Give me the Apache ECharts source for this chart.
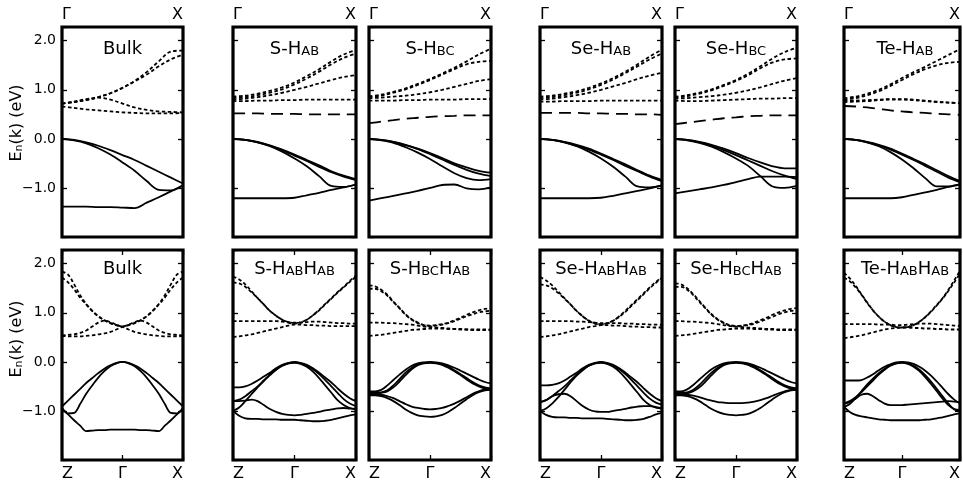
<!DOCTYPE html>
<html><head><meta charset="utf-8">
<script src="https://cdn.jsdelivr.net/npm/echarts@6/dist/echarts.min.js"></script>
<style>html,body{margin:0;padding:0;background:#fff}#c{width:963px;height:487px}</style>
</head><body><div id="c"></div><script>
// ---------- k-point grids ----------
const kTop = [0,0.1,0.2,0.3,0.4,0.5,0.6,0.7,0.8,0.9,1];
const kBot = [-1,-0.9,-0.8,-0.7,-0.6,-0.5,-0.4,-0.3,-0.2,-0.1,0,0.1,0.2,0.3,0.4,0.5,0.6,0.7,0.8,0.9,1];

// ---------- tick labels ----------
const yTickValues = [-1,0,1,2];
const yTickLabels = ['\u22121.0','0.0','1.0','2.0'];
const topXLabels = ['\u0393','X'];
const botXLabels = ['Z','\u0393','X'];

// ---------- titles ----------
const titlesTop = ['{m|Bulk}','{m|S-H}{s|AB}','{m|S-H}{s|BC}','{m|Se-H}{s|AB}','{m|Se-H}{s|BC}','{m|Te-H}{s|AB}'];
const titlesBot = ['{m|Bulk}','{m|S-H}{s|AB}{m|H}{s|AB}','{m|S-H}{s|BC}{m|H}{s|AB}','{m|Se-H}{s|AB}{m|H}{s|AB}','{m|Se-H}{s|BC}{m|H}{s|AB}','{m|Te-H}{s|AB}{m|H}{s|AB}'];

// ---------- top row: Gamma -> X ----------
const bulkTopSolid = [
 [0,-0.02,-0.07,-0.14,-0.23,-0.33,-0.43,-0.55,-0.67,-0.79,-0.91],
 [0,-0.03,-0.09,-0.19,-0.32,-0.48,-0.65,-0.86,-1.04,-1.05,-0.94],
 [-1.38,-1.38,-1.38,-1.39,-1.39,-1.40,-1.41,-1.30,-1.19,-1.07,-0.95]];
const bulkTopDotted = [
 [0.72,0.75,0.79,0.85,0.93,1.04,1.18,1.36,1.58,1.78,1.80],
 [0.72,0.75,0.79,0.85,0.93,1.04,1.17,1.31,1.48,1.62,1.72],
 [0.72,0.76,0.81,0.84,0.80,0.72,0.64,0.59,0.56,0.55,0.54],
 [0.66,0.63,0.60,0.58,0.56,0.54,0.53,0.52,0.52,0.52,0.53]];

const sHabTopSolid = [
 [0,-0.02,-0.06,-0.13,-0.22,-0.32,-0.43,-0.54,-0.66,-0.75,-0.82],
 [0,-0.02,-0.07,-0.14,-0.23,-0.34,-0.45,-0.57,-0.68,-0.77,-0.84],
 [0,-0.02,-0.07,-0.15,-0.26,-0.40,-0.56,-0.76,-0.96,-0.98,-0.93],
 [-1.21,-1.21,-1.21,-1.21,-1.21,-1.20,-1.15,-1.10,-1.04,-0.99,-0.93]];
const sHabTopDotted = [
 [0.86,0.88,0.92,0.98,1.05,1.15,1.28,1.42,1.58,1.72,1.81],
 [0.83,0.85,0.89,0.94,1.01,1.11,1.23,1.37,1.52,1.65,1.74],
 [0.80,0.82,0.85,0.89,0.94,1.00,1.06,1.13,1.20,1.26,1.30],
 [0.77,0.77,0.78,0.78,0.79,0.79,0.80,0.80,0.80,0.80,0.80]];
const sHabTopDashed = [[0.52,0.52,0.52,0.51,0.51,0.51,0.50,0.50,0.50,0.50,0.50]];

const sHbcTopSolid = [
 [0,-0.02,-0.06,-0.12,-0.20,-0.29,-0.39,-0.50,-0.58,-0.65,-0.69],
 [0,-0.02,-0.06,-0.13,-0.21,-0.31,-0.42,-0.53,-0.63,-0.71,-0.76],
 [0,-0.03,-0.08,-0.17,-0.28,-0.41,-0.56,-0.70,-0.80,-0.84,-0.82],
 [-1.26,-1.21,-1.16,-1.11,-1.06,-1.00,-0.94,-0.93,-1.01,-1.03,-0.99]];
const sHbcTopDotted = [
 [0.87,0.90,0.96,1.03,1.12,1.22,1.33,1.45,1.58,1.72,1.84],
 [0.85,0.88,0.94,1.01,1.10,1.20,1.31,1.42,1.52,1.57,1.59],
 [0.83,0.84,0.86,0.88,0.91,0.95,1.00,1.06,1.12,1.18,1.22],
 [0.78,0.78,0.78,0.79,0.79,0.80,0.80,0.80,0.81,0.81,0.81]];
const sHbcTopDashed = [[0.32,0.35,0.38,0.41,0.43,0.45,0.46,0.47,0.48,0.48,0.48]];

const seHabTopSolid = [
 [0,-0.02,-0.06,-0.12,-0.20,-0.30,-0.41,-0.52,-0.64,-0.75,-0.84],
 [0,-0.02,-0.07,-0.14,-0.22,-0.32,-0.43,-0.55,-0.66,-0.77,-0.86],
 [0,-0.02,-0.07,-0.15,-0.26,-0.40,-0.57,-0.77,-0.97,-0.99,-0.95],
 [-1.21,-1.21,-1.21,-1.21,-1.21,-1.20,-1.16,-1.11,-1.06,-1.01,-0.95]];
const seHabTopDotted = [
 [0.86,0.88,0.92,0.97,1.04,1.13,1.24,1.37,1.52,1.68,1.82],
 [0.83,0.85,0.89,0.94,1.01,1.10,1.21,1.34,1.48,1.62,1.74],
 [0.80,0.82,0.85,0.89,0.94,1.00,1.07,1.14,1.22,1.29,1.35],
 [0.76,0.76,0.77,0.77,0.77,0.78,0.78,0.78,0.78,0.78,0.78]];
const seHabTopDashed = [[0.53,0.53,0.53,0.53,0.52,0.52,0.51,0.51,0.50,0.50,0.49]];

const seHbcTopSolid = [
 [0,-0.02,-0.06,-0.12,-0.20,-0.29,-0.39,-0.48,-0.56,-0.60,-0.60],
 [0,-0.02,-0.07,-0.14,-0.23,-0.33,-0.44,-0.55,-0.66,-0.75,-0.82],
 [0,-0.03,-0.08,-0.16,-0.27,-0.40,-0.55,-0.76,-0.97,-1.00,-0.96],
 [-1.11,-1.07,-1.03,-0.99,-0.94,-0.88,-0.82,-0.77,-0.77,-0.77,-0.78]];
const seHbcTopDotted = [
 [0.86,0.89,0.94,1.01,1.10,1.20,1.33,1.48,1.64,1.77,1.86],
 [0.84,0.87,0.92,0.99,1.08,1.18,1.30,1.44,1.56,1.62,1.64],
 [0.82,0.83,0.85,0.87,0.90,0.94,0.99,1.05,1.12,1.19,1.24],
 [0.78,0.77,0.77,0.78,0.79,0.80,0.81,0.82,0.82,0.83,0.83]];
const seHbcTopDashed = [[0.30,0.33,0.36,0.39,0.42,0.44,0.46,0.47,0.48,0.48,0.48]];

const teHabTopSolid = [
 [0,-0.02,-0.06,-0.12,-0.20,-0.30,-0.41,-0.52,-0.64,-0.76,-0.86],
 [0,-0.02,-0.07,-0.13,-0.22,-0.32,-0.43,-0.55,-0.67,-0.79,-0.88],
 [0,-0.02,-0.07,-0.15,-0.27,-0.42,-0.60,-0.80,-0.97,-0.97,-0.92],
 [-1.21,-1.21,-1.21,-1.21,-1.21,-1.19,-1.14,-1.09,-1.04,-0.98,-0.93]];
const teHabTopDotted = [
 [0.83,0.86,0.92,1.00,1.11,1.24,1.36,1.47,1.59,1.71,1.83],
 [0.80,0.83,0.89,0.97,1.08,1.20,1.32,1.42,1.50,1.55,1.57],
 [0.78,0.78,0.79,0.80,0.81,0.81,0.80,0.78,0.76,0.74,0.73],
 [0.75,0.76,0.77,0.79,0.80,0.80,0.79,0.77,0.75,0.74,0.73]];
const teHabTopDashed = [[0.67,0.66,0.64,0.61,0.58,0.56,0.54,0.53,0.51,0.50,0.49]];

// ---------- bottom row: Z -> Gamma -> X ----------
const bulkBotSolid = [
 [-0.91,-0.79,-0.67,-0.55,-0.43,-0.33,-0.23,-0.14,-0.07,-0.02,0,-0.02,-0.07,-0.14,-0.23,-0.33,-0.43,-0.55,-0.67,-0.79,-0.91],
 [-0.94,-1.05,-1.04,-0.86,-0.65,-0.48,-0.32,-0.19,-0.09,-0.03,0,-0.03,-0.09,-0.19,-0.32,-0.48,-0.65,-0.86,-1.04,-1.05,-0.94],
 [-0.95,-1.07,-1.19,-1.30,-1.41,-1.40,-1.39,-1.39,-1.38,-1.38,-1.38,-1.38,-1.38,-1.39,-1.39,-1.40,-1.41,-1.30,-1.19,-1.07,-0.95]];
const bulkBotDotted = [
 [1.84,1.78,1.58,1.36,1.18,1.04,0.93,0.85,0.79,0.75,0.72,0.75,0.79,0.85,0.93,1.04,1.18,1.36,1.58,1.78,1.84],
 [1.72,1.62,1.48,1.31,1.17,1.04,0.93,0.85,0.79,0.75,0.72,0.75,0.79,0.85,0.93,1.04,1.17,1.31,1.48,1.62,1.72],
 [0.54,0.55,0.56,0.59,0.64,0.72,0.80,0.84,0.81,0.76,0.72,0.76,0.81,0.84,0.80,0.72,0.64,0.59,0.56,0.55,0.54],
 [0.53,0.52,0.52,0.52,0.53,0.54,0.56,0.58,0.61,0.66,0.71,0.66,0.61,0.58,0.56,0.54,0.53,0.52,0.52,0.52,0.53]];

const sHabBotSolid = [
 [-0.52,-0.52,-0.50,-0.45,-0.38,-0.30,-0.22,-0.13,-0.06,-0.02,0,-0.02,-0.06,-0.13,-0.22,-0.32,-0.42,-0.54,-0.65,-0.74,-0.80],
 [-0.80,-0.77,-0.70,-0.60,-0.50,-0.38,-0.26,-0.16,-0.08,-0.03,-0.02,-0.04,-0.10,-0.20,-0.33,-0.48,-0.63,-0.78,-0.88,-0.94,-0.97],
 [-1.00,-0.93,-0.80,-0.66,-0.52,-0.39,-0.27,-0.16,-0.08,-0.03,-0.01,-0.03,-0.08,-0.15,-0.25,-0.37,-0.50,-0.63,-0.76,-0.85,-0.90],
 [-0.80,-0.80,-0.79,-0.77,-0.80,-0.88,-0.96,-1.02,-1.06,-1.08,-1.09,-1.08,-1.06,-1.04,-1.02,-0.99,-0.97,-0.95,-0.94,-0.95,-0.96],
 [-1.00,-1.10,-1.15,-1.16,-1.16,-1.17,-1.17,-1.17,-1.18,-1.18,-1.18,-1.19,-1.20,-1.21,-1.21,-1.20,-1.18,-1.15,-1.12,-1.09,-1.07]];
const sHabBotDotted = [
 [1.74,1.68,1.58,1.44,1.30,1.17,1.04,0.94,0.86,0.80,0.78,0.80,0.86,0.95,1.06,1.18,1.30,1.42,1.53,1.65,1.76],
 [1.62,1.60,1.53,1.42,1.30,1.17,1.04,0.94,0.86,0.81,0.79,0.81,0.86,0.95,1.05,1.17,1.29,1.41,1.52,1.63,1.74],
 [0.83,0.83,0.83,0.83,0.83,0.83,0.83,0.83,0.82,0.81,0.80,0.80,0.81,0.82,0.82,0.81,0.80,0.79,0.79,0.78,0.78],
 [0.51,0.52,0.54,0.56,0.59,0.62,0.65,0.68,0.71,0.74,0.76,0.76,0.75,0.75,0.74,0.74,0.73,0.73,0.73,0.73,0.73]];

const sHbcBotSolid = [
 [-0.60,-0.60,-0.57,-0.48,-0.37,-0.26,-0.16,-0.08,-0.03,-0.01,0,-0.01,-0.03,-0.07,-0.12,-0.18,-0.24,-0.30,-0.36,-0.41,-0.44],
 [-0.63,-0.63,-0.62,-0.58,-0.48,-0.35,-0.22,-0.12,-0.05,-0.02,-0.01,-0.02,-0.05,-0.10,-0.17,-0.25,-0.33,-0.41,-0.48,-0.52,-0.54],
 [-0.64,-0.64,-0.63,-0.60,-0.52,-0.40,-0.27,-0.15,-0.07,-0.03,-0.02,-0.03,-0.06,-0.12,-0.19,-0.27,-0.36,-0.44,-0.50,-0.54,-0.56],
 [-0.66,-0.66,-0.67,-0.70,-0.74,-0.80,-0.86,-0.91,-0.94,-0.96,-0.97,-0.96,-0.94,-0.90,-0.85,-0.79,-0.72,-0.65,-0.60,-0.56,-0.55],
 [-0.68,-0.68,-0.70,-0.74,-0.80,-0.88,-0.97,-1.04,-1.09,-1.11,-1.12,-1.11,-1.08,-1.02,-0.94,-0.85,-0.76,-0.68,-0.62,-0.58,-0.57]];
const sHbcBotDotted = [
 [1.56,1.54,1.47,1.37,1.23,1.10,0.97,0.87,0.80,0.75,0.74,0.75,0.77,0.80,0.85,0.90,0.96,1.01,1.05,1.08,1.09],
 [1.49,1.49,1.44,1.35,1.22,1.09,0.96,0.86,0.79,0.75,0.73,0.74,0.76,0.79,0.83,0.88,0.93,0.97,1.01,1.03,1.04],
 [0.80,0.80,0.80,0.79,0.79,0.78,0.77,0.76,0.74,0.72,0.71,0.70,0.69,0.68,0.67,0.67,0.66,0.66,0.66,0.66,0.66],
 [0.53,0.54,0.55,0.57,0.59,0.61,0.63,0.65,0.66,0.67,0.68,0.68,0.68,0.67,0.67,0.66,0.66,0.65,0.65,0.65,0.65]];

const seHabBotSolid = [
 [-0.48,-0.48,-0.47,-0.44,-0.38,-0.30,-0.22,-0.13,-0.06,-0.02,0,-0.02,-0.06,-0.13,-0.22,-0.32,-0.42,-0.54,-0.65,-0.74,-0.80],
 [-0.82,-0.78,-0.70,-0.60,-0.50,-0.38,-0.26,-0.16,-0.08,-0.03,-0.02,-0.04,-0.10,-0.20,-0.33,-0.48,-0.63,-0.78,-0.88,-0.93,-0.94],
 [-1.00,-0.95,-0.85,-0.72,-0.57,-0.42,-0.28,-0.17,-0.08,-0.03,-0.01,-0.03,-0.08,-0.15,-0.25,-0.37,-0.50,-0.63,-0.75,-0.83,-0.87],
 [-0.82,-0.78,-0.70,-0.66,-0.65,-0.70,-0.80,-0.90,-0.97,-1.01,-1.02,-1.02,-1.00,-0.98,-0.96,-0.93,-0.91,-0.90,-0.90,-0.92,-0.96],
 [-1.00,-1.08,-1.12,-1.13,-1.13,-1.14,-1.14,-1.15,-1.15,-1.15,-1.15,-1.16,-1.17,-1.18,-1.19,-1.19,-1.18,-1.16,-1.12,-1.07,-1.04]];
const seHabBotDotted = [
 [1.73,1.66,1.56,1.43,1.30,1.17,1.04,0.93,0.84,0.78,0.76,0.78,0.84,0.93,1.04,1.16,1.28,1.40,1.52,1.63,1.73],
 [1.58,1.56,1.50,1.40,1.29,1.17,1.04,0.93,0.84,0.79,0.77,0.79,0.84,0.92,1.02,1.14,1.26,1.38,1.50,1.61,1.71],
 [0.83,0.83,0.83,0.83,0.83,0.83,0.82,0.82,0.81,0.80,0.79,0.79,0.79,0.79,0.78,0.78,0.77,0.77,0.76,0.76,0.75],
 [0.51,0.52,0.54,0.56,0.59,0.62,0.65,0.68,0.71,0.73,0.75,0.75,0.74,0.74,0.73,0.72,0.72,0.71,0.71,0.70,0.70]];

const seHbcBotSolid = [
 [-0.60,-0.60,-0.56,-0.47,-0.36,-0.25,-0.15,-0.08,-0.03,-0.01,0,-0.01,-0.03,-0.07,-0.12,-0.18,-0.24,-0.30,-0.36,-0.41,-0.44],
 [-0.63,-0.63,-0.62,-0.57,-0.47,-0.34,-0.22,-0.12,-0.05,-0.02,-0.01,-0.02,-0.05,-0.10,-0.17,-0.25,-0.33,-0.41,-0.48,-0.52,-0.54],
 [-0.65,-0.65,-0.64,-0.60,-0.52,-0.40,-0.27,-0.15,-0.07,-0.03,-0.02,-0.03,-0.06,-0.12,-0.19,-0.27,-0.36,-0.44,-0.50,-0.54,-0.56],
 [-0.66,-0.66,-0.67,-0.69,-0.72,-0.76,-0.79,-0.82,-0.83,-0.84,-0.84,-0.84,-0.83,-0.81,-0.78,-0.74,-0.69,-0.64,-0.60,-0.57,-0.56],
 [-0.68,-0.68,-0.70,-0.74,-0.80,-0.88,-0.96,-1.02,-1.06,-1.08,-1.09,-1.08,-1.06,-1.01,-0.94,-0.85,-0.76,-0.68,-0.62,-0.58,-0.57]];
const seHbcBotDotted = [
 [1.60,1.58,1.50,1.38,1.24,1.10,0.97,0.87,0.80,0.75,0.73,0.74,0.76,0.80,0.85,0.90,0.96,1.01,1.05,1.08,1.10],
 [1.53,1.53,1.47,1.36,1.22,1.09,0.96,0.86,0.79,0.74,0.72,0.73,0.75,0.78,0.82,0.87,0.92,0.97,1.01,1.04,1.05],
 [0.83,0.83,0.82,0.82,0.81,0.80,0.79,0.77,0.75,0.73,0.72,0.71,0.70,0.69,0.68,0.67,0.67,0.66,0.66,0.66,0.66],
 [0.53,0.54,0.55,0.57,0.59,0.61,0.63,0.65,0.66,0.67,0.68,0.68,0.68,0.67,0.67,0.66,0.66,0.65,0.65,0.65,0.65]];

const teHabBotSolid = [
 [-0.38,-0.38,-0.38,-0.37,-0.32,-0.25,-0.17,-0.10,-0.05,-0.01,0,-0.01,-0.04,-0.10,-0.18,-0.28,-0.40,-0.53,-0.66,-0.77,-0.85],
 [-0.85,-0.80,-0.72,-0.62,-0.50,-0.38,-0.26,-0.16,-0.08,-0.03,-0.02,-0.04,-0.10,-0.19,-0.31,-0.45,-0.60,-0.75,-0.88,-0.96,-0.98],
 [-0.92,-0.86,-0.74,-0.60,-0.46,-0.34,-0.23,-0.14,-0.07,-0.03,-0.01,-0.03,-0.08,-0.16,-0.27,-0.40,-0.55,-0.70,-0.85,-0.97,-1.00],
 [-0.85,-0.82,-0.75,-0.67,-0.65,-0.70,-0.78,-0.85,-0.88,-0.88,-0.88,-0.87,-0.86,-0.85,-0.84,-0.83,-0.82,-0.81,-0.80,-0.81,-0.82],
 [-0.92,-1.02,-1.08,-1.11,-1.13,-1.15,-1.17,-1.18,-1.19,-1.19,-1.19,-1.19,-1.19,-1.19,-1.18,-1.17,-1.15,-1.13,-1.10,-1.07,-1.05]];
const teHabBotDotted = [
 [1.82,1.70,1.55,1.38,1.21,1.05,0.92,0.82,0.75,0.71,0.70,0.71,0.75,0.82,0.91,1.03,1.16,1.30,1.47,1.66,1.86],
 [1.72,1.64,1.52,1.37,1.20,1.05,0.92,0.82,0.75,0.71,0.70,0.71,0.75,0.82,0.91,1.02,1.15,1.29,1.45,1.62,1.80],
 [0.77,0.77,0.77,0.77,0.77,0.77,0.76,0.76,0.76,0.75,0.75,0.76,0.77,0.78,0.78,0.78,0.77,0.76,0.75,0.74,0.73],
 [0.49,0.50,0.52,0.54,0.57,0.60,0.63,0.66,0.68,0.69,0.70,0.70,0.69,0.69,0.68,0.68,0.67,0.67,0.66,0.66,0.66]];

// ---------- panels ----------
const panels = [
 {row:0,col:0,title:titlesTop[0],solid:bulkTopSolid,dotted:bulkTopDotted,dashed:[]},
 {row:0,col:1,title:titlesTop[1],solid:sHabTopSolid,dotted:sHabTopDotted,dashed:sHabTopDashed},
 {row:0,col:2,title:titlesTop[2],solid:sHbcTopSolid,dotted:sHbcTopDotted,dashed:sHbcTopDashed},
 {row:0,col:3,title:titlesTop[3],solid:seHabTopSolid,dotted:seHabTopDotted,dashed:seHabTopDashed},
 {row:0,col:4,title:titlesTop[4],solid:seHbcTopSolid,dotted:seHbcTopDotted,dashed:seHbcTopDashed},
 {row:0,col:5,title:titlesTop[5],solid:teHabTopSolid,dotted:teHabTopDotted,dashed:teHabTopDashed},
 {row:1,col:0,title:titlesBot[0],solid:bulkBotSolid,dotted:bulkBotDotted,dashed:[]},
 {row:1,col:1,title:titlesBot[1],solid:sHabBotSolid,dotted:sHabBotDotted,dashed:[]},
 {row:1,col:2,title:titlesBot[2],solid:sHbcBotSolid,dotted:sHbcBotDotted,dashed:[]},
 {row:1,col:3,title:titlesBot[3],solid:seHabBotSolid,dotted:seHabBotDotted,dashed:[]},
 {row:1,col:4,title:titlesBot[4],solid:seHbcBotSolid,dotted:seHbcBotDotted,dashed:[]},
 {row:1,col:5,title:titlesBot[5],solid:teHabBotSolid,dotted:teHabBotDotted,dashed:[]}
];

// ---------- layout ----------
const colLeft = [62,233,369,540,675,844];
const colWidth = [121,123,122,122,122,122];
const rowTop = [27,250];
const rowHeight = 210;
const titleY = [47,267];
const ylabelY = [123,339];
const FONT = 'DejaVu Sans';

const SOLID = {color:'#000', width:1.8, type:'solid'};
const DOT = {color:'#000', width:1.8, type:[3.5,2.5]};
const DASH = {color:'#000', width:1.8, type:[12,7]};

const grids=[], xAxes=[], yAxes=[], series=[], graphics=[];
const subRich = {
  m:{fontSize:18, fontFamily:FONT, color:'#000', lineHeight:22, verticalAlign:'bottom'},
  s:{fontSize:13, fontFamily:FONT, color:'#000', lineHeight:13, verticalAlign:'bottom'}
};
const tickStyle = {color:'#000', width:1.3};

panels.forEach((p,i)=>{
  const top = p.row===0;
  grids.push({left:colLeft[p.col], top:rowTop[p.row], width:colWidth[p.col], height:rowHeight,
    show:true, borderColor:'#000', borderWidth:3.2, backgroundColor:'transparent', containLabel:false});
  const xLabels = top ? topXLabels : botXLabels;
  const xMin = top ? 0 : -1;
  xAxes.push({gridIndex:i, type:'value', min:xMin, max:1, interval:1,
    position: top ? 'top' : 'bottom',
    axisLine:{show:false, onZero:false}, splitLine:{show:false},
    axisTick:{show:!top, inside:true, length:5, lineStyle:tickStyle},
    axisLabel:{show:true, fontFamily:FONT, fontSize:16, color:'#000', margin: top?4:6,
      alignMinLabel:'left', alignMaxLabel:'right',
      formatter:v=>{ const idx = Math.round(v - xMin); return xLabels[idx]!==undefined ? xLabels[idx] : ''; }}});
  xAxes.push({gridIndex:i, type:'value', min:xMin, max:1, interval:1,
    position: top ? 'bottom' : 'top',
    axisLine:{show:false, onZero:false}, splitLine:{show:false}, axisLabel:{show:false},
    axisTick:{show:!top, inside:true, length:5, lineStyle:tickStyle}});
  const yCommon = {gridIndex:i, type:'value', min:-2, max:2.28, interval:1,
    axisLine:{show:false, onZero:false}, splitLine:{show:false},
    axisTick:{show:true, inside:true, length:5, lineStyle:tickStyle}};
  yAxes.push(Object.assign({}, yCommon, {position:'left',
    axisLabel:{show:p.col===0, fontFamily:FONT, fontSize:14, color:'#000', margin:6,
      formatter:v=>{ const j = yTickValues.indexOf(Math.round(v*100)/100); return j>=0 ? yTickLabels[j] : ''; }}}));
  yAxes.push(Object.assign({}, yCommon, {position:'right', axisLabel:{show:false}}));
  const ks = top ? kTop : kBot;
  const add = (bands, style)=>bands.forEach(b=>series.push({type:'line', xAxisIndex:2*i, yAxisIndex:2*i,
    data: ks.map((k,j)=>[k,b[j]]), showSymbol:false, smooth:0.35, lineStyle:style, silent:true, z:3}));
  add(p.solid, SOLID); add(p.dotted, DOT); add(p.dashed, DASH);
  graphics.push({type:'text', x: colLeft[p.col]+colWidth[p.col]/2, y: titleY[p.row], z:10,
    style:{text:p.title, align:'center', verticalAlign:'middle', rich:subRich}});
});

[0,1].forEach(r=>graphics.push({type:'text', x:15, y:ylabelY[r], rotation:Math.PI/2, z:10,
  style:{text:'{m|E}{s|n}{m|(k) (eV)}', align:'center', verticalAlign:'middle',
    rich:{m:{fontSize:16,fontFamily:FONT,color:'#000',lineHeight:20,verticalAlign:'bottom'},
          s:{fontSize:11,fontFamily:FONT,color:'#000',lineHeight:11,verticalAlign:'bottom'}}}}));

const chart = echarts.init(document.getElementById('c'), null, {renderer:'canvas', width:963, height:487});
chart.setOption({animation:false, backgroundColor:'#fff', grid:grids, xAxis:xAxes, yAxis:yAxes, series:series, graphic:graphics});
</script></body></html>
